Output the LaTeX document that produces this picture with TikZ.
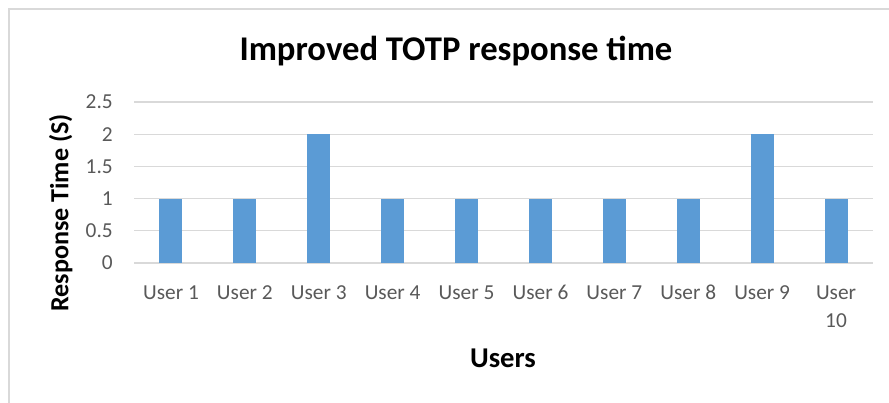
\documentclass[tikz,border=0pt]{standalone}
\usepackage{fontspec}
\setmainfont{Carlito}
\definecolor{barblue}{HTML}{5B9BD5}
\definecolor{gridgray}{HTML}{D9D9D9}
\definecolor{ticktext}{HTML}{595959}
\begin{document}
\begin{tikzpicture}[x=0.75pt,y=-0.75pt,
  gridline/.style={draw=gridgray,line width=0.9pt},
  frameline/.style={draw=gridgray,line width=1.1pt},
  bar/.style={fill=barblue},
  ticklabel/.style={text=ticktext,inner sep=0pt,font=\fontsize{16}{21}\selectfont},
  axistitle/.style={inner sep=0pt,font=\fontsize{19.6}{23}\selectfont\bfseries},
  charttitle/.style={inner sep=0pt,font=\fontsize{26}{30}\selectfont\bfseries}]
\useasboundingbox (0,0) rectangle (889,403);
% chart area frame
\draw[frameline] (9,403) -- (9,9) -- (889,9);
% horizontal grid and value labels
\foreach \v/\n in {0/0,0.5/05,1/1,1.5/15,2/2,2.5/25}{
  \pgfmathsetmacro{\yy}{263-64.4*\v}
  \draw[gridline] (134,\yy) -- (873,\yy);
  \node[ticklabel,anchor=east] (tick\n) at (113,\yy) {\v};
}
% bars
\foreach \i/\val in {1/1,2/1,3/2,4/1,5/1,6/1,7/1,8/1,9/2,10/1}{
  \pgfmathsetmacro{\cx}{134+73.9*(\i-0.5)}
  \pgfmathsetmacro{\bartop}{263-64.4*\val}
  \fill[bar] (\cx-11.5,263) rectangle (\cx+11.5,\bartop);
}
% category labels
\foreach \i in {1,...,9}{
  \pgfmathsetmacro{\cx}{134+73.9*(\i-0.5)}
  \node[ticklabel,anchor=base] (cat\i) at (\cx,299) {User \i};
}
\node[ticklabel,anchor=north,align=center] (cat10) at ({134+73.9*9.5},285.7) {User\\10};
% titles
\node[charttitle,anchor=base] (title) at (456,60.7) {Improved TOTP response time};
\node[axistitle,anchor=base,rotate=90] (ytitle) at (68.3,213) {Response Time (S)};
\node[axistitle,font=\fontsize{21.5}{25}\selectfont\bfseries,anchor=base] (xtitle) at (503,367.3) {Users};
\end{tikzpicture}
\end{document}
